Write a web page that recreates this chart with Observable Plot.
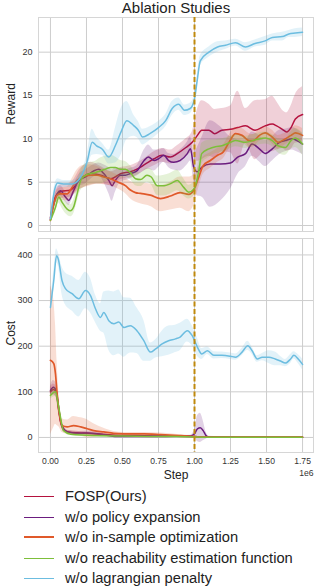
<!DOCTYPE html>
<html>
<head>
<meta charset="utf-8">
<script src="https://cdn.jsdelivr.net/npm/d3@7"></script>
<script src="https://cdn.jsdelivr.net/npm/@observablehq/plot@0.6"></script>
<style>
  html, body { margin: 0; padding: 0; background: #fff; }
  #wrap { width: 316px; font-family: "Liberation Sans", Arial, sans-serif; }
  svg { display: block; }
  .legend { position: relative; height: 100px; }
  .item { position: absolute; left: 0; height: 20px; width: 316px; }
  .item .sw { position: absolute; left: 24px; width: 30px; }
  .item .lb { position: absolute; left: 65px; top: 50%; transform: translateY(-52%); font-size: 14.7px; color: #222; white-space: nowrap; }
</style>
</head>
<body>
<div id="wrap"></div>
<script>
// ---- series names and colours ----
const seriesNames = ["FOSP(Ours)", "w/o policy expansion", "w/o in-sample optimization", "w/o reachability estimation function", "w/o lagrangian penalty"];
const seriesColors = ["#b5123e", "#6b1d7f", "#e0592a", "#7dbf3a", "#6cbde0"];

// ---- x ticks (steps, 1e6) ----
const stepTicks = [0, 0.25, 0.5, 0.75, 1.0, 1.25, 1.5, 1.75];
const rewardTicks = [0, 5, 10, 15, 20];
const costTicks = [0, 100, 200, 300, 400];
const switchStep = 1.0;

// ---- Reward: FOSP ----
const rFospStep = [0, 0.035, 0.07, 0.14, 0.21, 0.28, 0.35, 0.42, 0.49, 0.555, 0.6, 0.66, 0.72, 0.775, 0.833, 0.88, 0.94, 0.984, 1.02, 1.05, 1.1, 1.14, 1.19, 1.25, 1.3, 1.354, 1.42, 1.49, 1.54, 1.57, 1.61, 1.64, 1.67, 1.7, 1.75];
const rFospMean = [0.9, 3.3, 3.9, 4.1, 5.4, 6.0, 5.8, 5.4, 6.0, 6.2, 6.5, 7.1, 7.7, 8.1, 7.9, 8.3, 9.0, 9.6, 10.4, 11.0, 11.0, 10.6, 11.0, 11.1, 11.3, 11.5, 11.0, 11.5, 11.7, 11.5, 11.1, 10.8, 11.3, 12.3, 12.8];
const rFospSpread = [0.4, 0.8, 0.8, 0.8, 1.2, 1.3, 1.0, 0.8, 0.7, 0.7, 0.7, 0.7, 0.8, 0.8, 0.8, 0.9, 1.0, 1.2, 3.0, 3.4, 3.0, 2.8, 2.5, 2.7, 4.2, 2.0, 3.4, 3.0, 3.2, 2.8, 2.2, 2.2, 2.5, 2.8, 3.2];

// ---- Reward: w/o policy expansion ----
const rPolStep = [0, 0.046, 0.07, 0.104, 0.127, 0.16, 0.197, 0.243, 0.3, 0.335, 0.37, 0.405, 0.428, 0.45, 0.486, 0.52, 0.555, 0.6, 0.65, 0.68, 0.72, 0.75, 0.787, 0.82, 0.856, 0.9, 0.95, 0.972, 0.995, 1.02, 1.05, 1.11, 1.18, 1.25, 1.3, 1.354, 1.40, 1.45, 1.49, 1.54, 1.59, 1.63, 1.68, 1.71, 1.75];
const rPolMean = [0.7, 3.65, 4.0, 3.3, 2.9, 4.0, 5.2, 5.6, 6.3, 6.5, 6.0, 5.2, 4.6, 5.2, 5.8, 5.8, 6.0, 6.3, 7.5, 7.9, 7.5, 7.7, 8.1, 7.5, 7.3, 7.5, 8.3, 8.85, 6.7, 6.2, 6.7, 7.1, 7.1, 7.2, 7.9, 8.3, 9.4, 8.85, 8.3, 8.85, 9.6, 9.8, 10.0, 9.8, 9.4];
const rPolSpread = [0.3, 0.6, 0.6, 0.6, 0.6, 0.6, 0.7, 0.8, 0.7, 0.7, 1.0, 1.5, 1.8, 1.4, 0.8, 0.6, 0.6, 0.6, 1.2, 1.4, 1.2, 1.0, 0.8, 0.8, 0.9, 1.2, 1.3, 1.4, 1.6, 2.8, 3.4, 5.0, 4.3, 3.0, 2.0, 1.5, 1.4, 1.5, 1.5, 1.4, 1.4, 1.3, 1.3, 1.3, 1.2];

// ---- Reward: w/o in-sample optimization ----
const rInsStep = [0, 0.046, 0.07, 0.116, 0.15, 0.185, 0.22, 0.278, 0.324, 0.37, 0.417, 0.47, 0.52, 0.555, 0.59, 0.625, 0.694, 0.764, 0.833, 0.9, 0.96, 0.995, 1.03, 1.06, 1.11, 1.16, 1.2, 1.24, 1.285, 1.33, 1.38, 1.41, 1.45, 1.49, 1.54, 1.58, 1.62, 1.67, 1.70, 1.75];
const rInsMean = [0.6, 3.5, 3.65, 3.65, 4.4, 5.2, 5.6, 5.8, 5.8, 5.6, 5.4, 5.0, 4.6, 4.1, 3.8, 3.7, 3.5, 3.1, 3.4, 3.8, 3.6, 4.1, 5.6, 6.9, 7.5, 8.1, 8.5, 9.6, 10.6, 10.4, 9.8, 9.8, 10.4, 10.7, 10.2, 9.6, 9.9, 10.4, 10.7, 10.4];
const rInsSpread = [0.3, 0.6, 0.7, 0.8, 1.0, 1.2, 1.3, 1.2, 1.0, 0.9, 0.8, 0.8, 0.9, 1.0, 1.1, 1.2, 1.3, 1.5, 1.6, 1.8, 2.0, 1.8, 1.2, 1.0, 0.9, 0.8, 0.8, 0.8, 0.7, 0.8, 0.8, 0.7, 0.7, 0.7, 0.8, 0.8, 0.7, 0.7, 0.8, 0.8];

// ---- Reward: w/o reachability estimation function ----
const rReaStep = [0, 0.035, 0.058, 0.08, 0.116, 0.139, 0.16, 0.185, 0.21, 0.243, 0.278, 0.31, 0.347, 0.38, 0.417, 0.45, 0.486, 0.52, 0.555, 0.59, 0.625, 0.67, 0.7, 0.74, 0.79, 0.83, 0.88, 0.925, 0.96, 0.995, 1.03, 1.05, 1.1, 1.146, 1.19, 1.25, 1.285, 1.354, 1.424, 1.493, 1.54, 1.58, 1.63, 1.67, 1.70, 1.75];
const rReaMean = [0.6, 2.1, 3.3, 2.7, 1.9, 1.7, 2.1, 3.65, 5.2, 5.8, 6.0, 6.1, 6.3, 6.5, 6.7, 6.7, 6.5, 6.5, 6.1, 5.4, 5.3, 5.8, 5.6, 4.6, 4.6, 4.8, 5.2, 4.4, 3.85, 4.2, 6.3, 8.3, 8.85, 9.1, 9.2, 9.6, 9.8, 9.6, 9.9, 10.1, 9.8, 9.2, 9.0, 9.8, 10.1, 9.4];
const rReaSpread = [0.3, 0.6, 0.7, 0.7, 0.7, 0.7, 0.8, 1.0, 1.2, 1.3, 1.3, 1.3, 1.5, 1.5, 1.4, 1.2, 1.0, 0.9, 0.8, 0.8, 0.8, 0.8, 0.9, 1.1, 1.2, 1.2, 1.2, 1.0, 0.8, 0.8, 1.2, 1.2, 1.0, 0.8, 0.8, 0.7, 0.7, 0.7, 0.7, 0.7, 0.7, 0.8, 0.9, 1.0, 1.1, 1.3];

// ---- Reward: w/o lagrangian penalty ----
const rLagStep = [0, 0.03, 0.05, 0.09, 0.15, 0.21, 0.255, 0.29, 0.32, 0.36, 0.405, 0.45, 0.49, 0.53, 0.58, 0.61, 0.64, 0.69, 0.75, 0.8, 0.845, 0.89, 0.93, 0.97, 1.0, 1.02, 1.04, 1.1, 1.16, 1.215, 1.285, 1.354, 1.42, 1.49, 1.54, 1.61, 1.655, 1.70, 1.75];
const rLagMean = [0.8, 4.2, 4.9, 4.8, 4.8, 5.6, 7.4, 9.6, 9.2, 8.8, 7.9, 9.2, 10.8, 12.1, 11.5, 11.0, 10.2, 10.6, 11.3, 12.1, 13.5, 14.0, 13.3, 13.5, 14.6, 16.9, 19.0, 20.0, 20.6, 20.8, 21.1, 20.6, 21.0, 21.3, 21.7, 21.8, 22.1, 22.2, 22.3];
const rLagSpread = [0.3, 0.5, 0.5, 0.4, 0.4, 0.5, 0.8, 1.5, 1.0, 0.7, 0.8, 2.0, 2.7, 2.2, 1.2, 1.0, 0.9, 0.8, 0.7, 0.7, 0.8, 0.7, 0.6, 0.6, 0.5, 0.6, 0.6, 0.6, 0.6, 0.5, 0.4, 0.5, 0.4, 0.5, 0.4, 0.5, 0.4, 0.5, 0.5];

// ---- Cost: FOSP ----
const cFospStep = [0, 0.02, 0.04, 0.055, 0.07, 0.09, 0.12, 0.2, 0.3, 0.45, 0.6, 0.8, 1.0, 1.05, 1.75];
const cFospMean = [100, 105, 100, 65, 35, 18, 12, 10, 8, 5, 4, 3, 2, 0.5, 0.5];
const cFospSpread = [10, 12, 12, 10, 6, 4, 3, 3, 3, 2, 2, 1, 1, 0.3, 0.3];

// ---- Cost: w/o policy expansion ----
const cPolStep = [0, 0.02, 0.04, 0.055, 0.07, 0.09, 0.12, 0.2, 0.26, 0.35, 0.46, 0.6, 0.8, 0.97, 1.0, 1.02, 1.04, 1.06, 1.08, 1.1, 1.3, 1.75];
const cPolMean = [103, 110, 103, 70, 37, 20, 12, 9, 10, 7, 2, 2, 2, 3, 8, 19, 21, 15, 4, 0.7, 0.5, 0.5];
const cPolSpread = [10, 15, 15, 12, 8, 5, 4, 4, 4, 3, 2, 2, 2, 2, 8, 28, 32, 22, 8, 2, 0.3, 0.3];

// ---- Cost: w/o in-sample optimization ----
const cInsStep = [0, 0.023, 0.035, 0.046, 0.062, 0.08, 0.116, 0.16, 0.21, 0.255, 0.3, 0.37, 0.44, 0.51, 0.58, 0.65, 0.764, 0.9, 1.0, 1.05, 1.2, 1.5, 1.75];
const cInsMean = [169, 162, 139, 96, 52, 26, 23, 26, 23, 19, 15, 12, 9, 8, 8, 8, 6.5, 4, 2, 0.8, 0.5, 0.5, 0.5];
const cInsSpread = [163, 140, 110, 70, 30, 15, 15, 20, 20, 20, 15, 8, 4, 3, 3, 3, 3, 2, 1, 0.5, 0.3, 0.3, 0.3];

// ---- Cost: w/o reachability estimation function ----
const cReaStep = [0, 0.035, 0.055, 0.07, 0.09, 0.14, 0.25, 0.5, 0.8, 1.0, 1.05, 1.75];
const cReaMean = [92, 100, 70, 44, 15, 7, 5, 3, 2, 1, 0.5, 0.5];
const cReaSpread = [8, 10, 8, 6, 4, 3, 3, 2, 1, 1, 0.3, 0.3];

// ---- Cost: w/o lagrangian penalty ----
const cLagStep = [0, 0.023, 0.042, 0.055, 0.08, 0.104, 0.15, 0.197, 0.243, 0.278, 0.3125, 0.347, 0.37, 0.405, 0.44, 0.474, 0.51, 0.555, 0.6, 0.648, 0.694, 0.73, 0.775, 0.82, 0.868, 0.9, 0.95, 0.984, 1.02, 1.05, 1.09, 1.134, 1.19, 1.25, 1.285, 1.33, 1.37, 1.40, 1.435, 1.47, 1.516, 1.56, 1.6, 1.63, 1.667, 1.69, 1.72, 1.75];
const cLagMean = [285, 344, 398, 390, 344, 326, 315, 304, 322, 311, 282, 263, 274, 256, 249, 253, 241, 245, 234, 212, 187, 194, 205, 212, 216, 220, 234, 223, 198, 183, 190, 180, 180, 178, 176, 187, 201, 190, 172, 176, 176, 172, 167, 163, 172, 180, 172, 160];
const cLagSpread = [8, 20, 15, 15, 30, 35, 38, 40, 40, 38, 30, 30, 45, 65, 70, 70, 65, 60, 50, 45, 20, 20, 28, 32, 30, 30, 25, 22, 20, 12, 8, 8, 7, 7, 7, 8, 10, 8, 7, 8, 14, 15, 10, 8, 10, 8, 10, 12];

// ---- build tables ----
function table(steps, mean, spread) {
  return steps.map((s, i) => ({ step: s, mean: mean[i], lo: mean[i] - spread[i], hi: mean[i] + spread[i] }));
}
const rewardSeries = [
  table(rFospStep, rFospMean, rFospSpread),
  table(rPolStep, rPolMean, rPolSpread),
  table(rInsStep, rInsMean, rInsSpread),
  table(rReaStep, rReaMean, rReaSpread),
  table(rLagStep, rLagMean, rLagSpread)
];
const costSeries = [
  table(cFospStep, cFospMean, cFospSpread),
  table(cPolStep, cPolMean, cPolSpread),
  table(cInsStep, cInsMean, cInsSpread),
  table(cReaStep, cReaMean, cReaSpread),
  table(cLagStep, cLagMean, cLagSpread)
];

const font = "'Liberation Sans', Arial, sans-serif";
const gridColor = "#cdcdcd";
const xDomain = [-0.083, 1.826];

function seriesMarks(list) {
  const marks = [];
  list.forEach((d, i) => {
    marks.push(Plot.areaY(d, { x: "step", y1: "lo", y2: "hi", fill: seriesColors[i], fillOpacity: 0.2, curve: "monotone-x" }));
    marks.push(Plot.lineY(d, { x: "step", y: "mean", stroke: seriesColors[i], strokeWidth: i === 2 ? 1.7 : 1.5, curve: "monotone-x" }));
  });
  return marks;
}

const rewardChart = Plot.plot({
  width: 316, height: 234,
  marginTop: 17, marginBottom: 3, marginLeft: 38, marginRight: 3,
  style: { fontFamily: font, fontSize: "9px", color: "#333", background: "#fff", overflow: "visible" },
  x: { domain: xDomain, axis: null },
  y: { domain: [-0.69, 24], label: null, axis: null },
  marks: [
    Plot.gridX(stepTicks, { stroke: gridColor, strokeOpacity: 1 }),
    Plot.gridY(rewardTicks, { stroke: gridColor, strokeOpacity: 1 }),
    Plot.frame({ stroke: "#d6d6d6" }),
    Plot.axisY({ ticks: rewardTicks, tickSize: 0, tickPadding: 6, label: null, fontSize: 9 }),
    ...seriesMarks(rewardSeries),
    Plot.ruleX([switchStep], { y1: 24, y2: -1.1, stroke: "#c08a0e", strokeWidth: 2, strokeDasharray: "5,2.5" }),
    Plot.text(["Reward"], { frameAnchor: "left", dx: -27, rotate: -90, fontSize: 12, fill: "#222" }),
    Plot.text(["Ablation Studies"], { frameAnchor: "top", lineAnchor: "middle", dy: -9.5, fontSize: 15, fill: "#222" })
  ]
});

const costChart = Plot.plot({
  width: 316, height: 252,
  marginTop: 4, marginBottom: 34, marginLeft: 38, marginRight: 3,
  style: { fontFamily: font, fontSize: "9px", color: "#333", background: "#fff", overflow: "visible" },
  x: { domain: xDomain, label: null },
  y: { domain: [-33, 436], label: null },
  marks: [
    Plot.gridX(stepTicks, { stroke: gridColor, strokeOpacity: 1 }),
    Plot.gridY(costTicks, { stroke: gridColor, strokeOpacity: 1 }),
    Plot.frame({ stroke: "#d6d6d6" }),
    Plot.axisY({ ticks: costTicks, tickSize: 0, tickPadding: 6, label: null, fontSize: 9 }),
    Plot.axisX({ ticks: stepTicks, tickSize: 0, tickPadding: 5, label: null, tickFormat: d3.format(".2f"), fontSize: 8.6 }),
    ...seriesMarks(costSeries),
    Plot.ruleX([switchStep], { y1: 445, y2: -33, stroke: "#c08a0e", strokeWidth: 2, strokeDasharray: "5,2.5" }),
    Plot.text(["Cost"], { frameAnchor: "left", dx: -27, rotate: -90, fontSize: 12, fill: "#222" }),
    Plot.text(["Step"], { frameAnchor: "bottom", lineAnchor: "middle", dy: 23, fontSize: 12, fill: "#222" }),
    Plot.text(["1e6"], { frameAnchor: "bottom-right", lineAnchor: "middle", textAnchor: "end", dy: 21, fontSize: 8.6, fill: "#333" })
  ]
});

const wrap = document.getElementById("wrap");
wrap.appendChild(rewardChart);
wrap.appendChild(costChart);

const legend = document.createElement("div");
legend.className = "legend";
seriesNames.forEach((name, i) => {
  const item = document.createElement("div");
  item.className = "item";
  item.style.top = Math.round(i * 20.5) + "px";
  const sw = document.createElement("span");
  sw.className = "sw";
  const h = i === 2 ? 2 : 1.5;
  sw.style.height = h + "px";
  sw.style.top = (i === 2 ? 9 : 9.5) + "px";
  sw.style.background = seriesColors[i];
  const lb = document.createElement("span");
  lb.className = "lb";
  lb.textContent = name;
  item.appendChild(sw);
  item.appendChild(lb);
  legend.appendChild(item);
});
wrap.appendChild(legend);
</script>
</body>
</html>
